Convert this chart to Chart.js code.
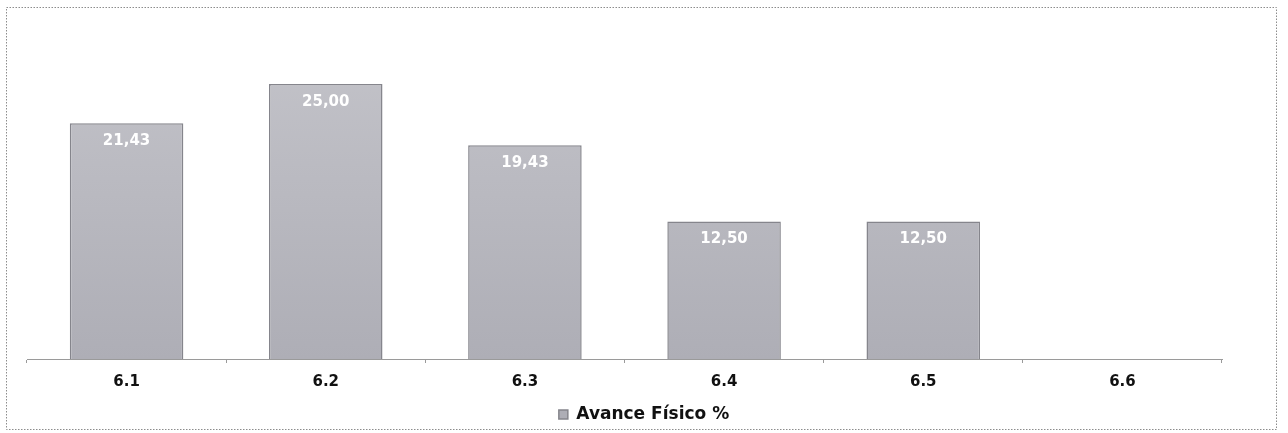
<!DOCTYPE html>
<html>
<head>
<meta charset="utf-8">
<script src="https://cdn.jsdelivr.net/npm/chart.js@4.4.0/dist/chart.umd.min.js"></script>
<style>
    html, body { margin: 0; padding: 0; background: #fff; }
    #wrap { width: 1288px; height: 433px; position: relative; }
</style>
</head>
<body>
<div id="wrap"><canvas id="avancechart"></canvas></div>
<script>
"use strict";

var categories = ['6.1', '6.2', '6.3', '6.4', '6.5', '6.6'];
var avanceFisico = [21.43, 25.00, 19.43, 12.50, 12.50, null];
var seriesName = 'Avance Físico %';
var yMax = 30;

var fontFamily = "'DejaVu Sans', sans-serif";

/* dotted frame around the whole chart */
var framePlugin = {
    id: 'frame',
    beforeDraw: function (chart) {
        var ctx = chart.ctx;
        ctx.save();
        ctx.fillStyle = '#ffffff';
        ctx.fillRect(0, 0, chart.width, chart.height);
        ctx.strokeStyle = '#8c8c8c';
        ctx.lineWidth = 1;
        ctx.setLineDash([1.5, 1.5]);
        ctx.strokeRect(6.5, 7.5, 1270, 422);
        ctx.restore();
    }
};

/* value labels inside the top of the bars */
var valuePlugin = {
    id: 'values',
    afterDatasetsDraw: function (chart) {
        var ctx = chart.ctx;
        var meta = chart.getDatasetMeta(0);
        ctx.save();
        ctx.fillStyle = '#ffffff';
        ctx.font = 'bold 15px ' + fontFamily;
        ctx.textAlign = 'center';
        ctx.textBaseline = 'middle';
        meta.data.forEach(function (bar, i) {
            var v = avanceFisico[i];
            if (v === null) return;
            ctx.fillText(v.toFixed(2).replace('.', ','), bar.x, bar.y + 18);
        });
        ctx.restore();
    }
};

var barFill = function (context) {
    var chart = context.chart;
    var area = chart.chartArea;
    if (!area) return '#b9b9c0';
    var g = chart.ctx.createLinearGradient(0, area.top, 0, area.bottom);
    g.addColorStop(0, '#c4c4ca');
    g.addColorStop(1, '#aeaeb6');
    return g;
};

var chartCtx = document.getElementById('avancechart').getContext('2d');
var avanceConfig = {
    type: 'bar',
    data: {
        labels: categories,
        datasets: [{
            label: seriesName,
            data: avanceFisico,
            backgroundColor: barFill,
            borderColor: '#85858c',
            borderWidth: 1.5,
            barPercentage: 0.57,
            categoryPercentage: 1.0
        }]
    },
    options: {
        responsive: true,
        maintainAspectRatio: false,
        animation: false,
        layout: {
            padding: { left: 27, right: 27, top: 29, bottom: 0 }
        },
        plugins: {
            legend: {
                position: 'bottom',
                labels: {
                    color: '#111',
                    boxWidth: 9,
                    boxHeight: 9,
                    padding: 6,
                    font: { family: fontFamily, size: 17, weight: 'bold' }
                }
            },
            tooltip: { enabled: false }
        },
        scales: {
            y: {
                display: false,
                min: 0,
                max: yMax
            },
            /* empty right-hand strip so the plot ends where the reference does */
            yRight: {
                position: 'right',
                display: true,
                grid: { display: false },
                border: { display: false },
                ticks: { display: false },
                afterFit: function (scale) { scale.width = 39; }
            },
            x: {
                grid: {
                    drawOnChartArea: false,
                    drawTicks: true,
                    tickLength: 4,
                    color: '#9a9a9a'
                },
                border: {
                    display: true,
                    color: '#9a9a9a',
                    dash: [1.5, 1.5]
                },
                ticks: {
                    color: '#111',
                    padding: 10,
                    font: { family: fontFamily, size: 15, weight: 'bold' }
                },
                afterFit: function (scale) { scale.height = 41; }
            }
        }
    },
    plugins: [framePlugin, valuePlugin]
};
var avanceChart = new Chart(chartCtx, avanceConfig);
</script>
</body>
</html>
